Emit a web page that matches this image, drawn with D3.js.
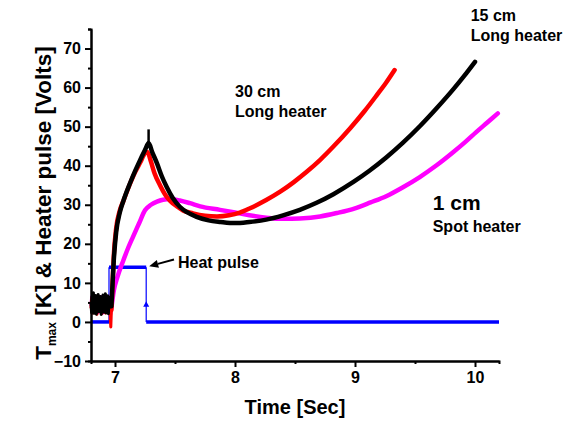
<!DOCTYPE html>
<html>
<head>
<meta charset="utf-8">
<script src="https://cdn.jsdelivr.net/npm/d3@7"></script>
<style>
  html, body { margin: 0; padding: 0; background: #fff; }
  svg text { font-family: Arial, "Liberation Sans", Helvetica, sans-serif; font-weight: bold; }
</style>
</head>
<body>
<svg id="chart" width="579" height="422"></svg>
<script>
// Pre-pulse baseline readings (noisy), sampled every 5 ms from 6.800 s
const noiseTime  = d3.range(34).map(i => 6.80 + i * 0.005);
const blackNoise = [4.8, 2.4, 6.6, 3.1, 7.5, 2.2, 5.9, 3.6, 6.8, 2.0, 5.4, 3.3, 7.0, 2.6, 6.1, 3.9, 6.5, 1.9, 5.7, 3.0, 6.9, 2.5, 5.2, 3.8, 7.2, 2.3, 6.0, 3.4, 6.7, 2.1, 5.5, 3.7, 6.3, 4.0];
const redNoise   = [3.5, 6.0, 2.2, 6.3, 2.9, 5.6, 2.4, 6.5, 3.6, 5.3, 2.0, 6.1, 3.1, 5.8, 2.6, 6.4, 3.3, 5.1, 2.1, 6.2, 2.8, 5.9, 3.7, 5.0, 2.3, 6.6, 3.0, 5.5, 2.5, 6.0, 3.4, 4.8, 1.5, -1.3];
const pinkNoise  = [4.1, 6.4, 2.7, 5.6, 3.0, 6.6, 3.7, 5.2, 2.5, 6.3, 3.4, 5.5, 2.4, 6.1, 3.8, 5.0, 2.8, 6.5, 3.2, 5.7, 2.3, 6.0, 3.6, 5.3, 2.6, 6.2, 3.1, 5.4, 2.9, 5.8, 3.5, 4.6, 2.4, 2.0];

// 15 cm long heater (black)
const blackTime = [6.97, 6.98, 6.99, 7.01, 7.04, 7.07, 7.125, 7.17, 7.21, 7.25, 7.28, 7.31, 7.35, 7.39, 7.43, 7.48, 7.54, 7.60, 7.68, 7.78, 7.88, 8.00, 8.12, 8.26, 8.40, 8.54, 8.68, 8.82, 8.99, 9.12, 9.26, 9.40, 9.54, 9.68, 9.82, 9.91, 10.00];
const blackTmax = [4.0, 10.0, 15.8, 23.0, 28.0, 31.0, 35.5, 38.8, 41.5, 44.0, 45.8, 43.5, 40.6, 37.3, 34.6, 31.8, 29.5, 28.1, 26.9, 26.0, 25.6, 25.3, 25.6, 26.2, 27.3, 28.7, 30.5, 32.7, 35.9, 38.7, 42.1, 45.9, 50.1, 54.7, 59.6, 63.0, 66.6];

// 30 cm long heater (red)
const redTime = [6.97, 6.98, 6.99, 7.01, 7.04, 7.07, 7.12, 7.17, 7.21, 7.25, 7.27, 7.30, 7.33, 7.375, 7.42, 7.46, 7.52, 7.57, 7.65, 7.75, 7.85, 7.95, 8.04, 8.125, 8.26, 8.38, 8.49, 8.60, 8.71, 8.82, 8.96, 9.08, 9.18, 9.26, 9.33];
const redTmax = [3.0, 10.0, 17.0, 24.0, 28.5, 31.0, 35.0, 38.5, 40.8, 43.2, 43.5, 41.0, 38.0, 35.0, 32.5, 31.0, 29.5, 28.5, 27.8, 27.2, 27.0, 27.3, 28.0, 29.1, 31.2, 33.4, 35.8, 38.5, 41.5, 44.9, 49.6, 54.0, 58.0, 61.3, 64.5];

// 1 cm spot heater (magenta)
const pinkTime = [6.97, 6.99, 7.02, 7.07, 7.11, 7.15, 7.20, 7.25, 7.30, 7.35, 7.40, 7.46, 7.54, 7.625, 7.71, 7.875, 8.00, 8.12, 8.26, 8.40, 8.54, 8.71, 8.85, 9.00, 9.13, 9.26, 9.40, 9.54, 9.68, 9.82, 9.92, 10.01, 10.10, 10.19];
const pinkTmax = [3.5, 8.0, 11.5, 15.8, 19.0, 21.8, 25.2, 28.6, 30.0, 30.8, 31.3, 31.5, 31.1, 30.4, 29.6, 28.7, 28.0, 27.3, 26.7, 26.4, 26.5, 27.0, 27.9, 29.1, 30.6, 32.2, 34.5, 37.1, 40.1, 43.5, 46.1, 48.6, 51.0, 53.4];

// Heater pulse (blue): 14 V between switch-on and switch-off
const pulseTime  = [6.80, 6.95, 6.95, 7.26, 7.26, 10.20];
const pulseVolts = [0, 0, 14, 14, 0, 0];
const pulseMidVolts = 4.5;   // single sample caught on the falling edge

const xTicks = [7, 8, 9, 10];
const yTicks = [-10, 0, 10, 20, 30, 40, 50, 60, 70];

const svg = d3.select("#chart");
const x = d3.scaleLinear().domain([6.8, 10.2]).range([91, 499]);
const y = d3.scaleLinear().domain([-10, 75]).range([361, 29]);

const zip = (ts, vs) => ts.map((t, i) => [t, vs[i]]);
const line = d3.line().x(d => x(d[0])).y(d => y(d[1]));
const smooth = d3.line().x(d => x(d[0])).y(d => y(d[1])).curve(d3.curveMonotoneX);

// heater pulse: thick plateaus, thin switching edges
const pulse = zip(pulseTime, pulseVolts);
const plateaus = [[pulse[0], pulse[1]], [pulse[2], pulse[3]], [pulse[4], pulse[5]]];
const edges = [[pulse[1], pulse[2]], [pulse[3], pulse[4]]];
svg.append("g").selectAll("path").data(edges).join("path")
  .attr("d", line).attr("fill", "none").attr("stroke", "#0000ff").attr("stroke-width", 1.2);
svg.append("g").selectAll("path").data(plateaus).join("path")
  .attr("d", line).attr("fill", "none").attr("stroke", "#0000ff").attr("stroke-width", 3.5);
{
  const px = x(pulseTime[3]), py = y(pulseMidVolts);
  svg.append("path").attr("d", `M${px},${py - 3}L${px + 3},${py + 2.5}L${px - 3},${py + 2.5}Z`).attr("fill", "#0000ff");
}

// temperature traces: noisy baseline + smooth response
const series = [
  { color: "#ff00ff", noise: zip(noiseTime, pinkNoise), pts: zip(pinkTime, pinkTmax) },
  { color: "#ff0000", noise: zip(noiseTime, redNoise), pts: zip(redTime, redTmax) },
  { color: "#000000", noise: zip(noiseTime, blackNoise), pts: zip(blackTime, blackTmax) }
];
const traces = svg.append("g").selectAll("g").data(series).join("g");
traces.append("path")
  .attr("d", d => line(d.noise.concat([d.pts[0]])))
  .attr("fill", "none").attr("stroke", d => d.color)
  .attr("stroke-width", 3).attr("stroke-linejoin", "round");
traces.append("path")
  .attr("d", d => smooth(d.pts))
  .attr("fill", "none").attr("stroke", d => d.color)
  .attr("stroke-width", 4.5).attr("stroke-linejoin", "round").attr("stroke-linecap", "round");

// scatter at the black peak
svg.append("line")
  .attr("x1", x(7.28)).attr("x2", x(7.28))
  .attr("y1", y(45)).attr("y2", y(49.3))
  .attr("stroke", "#000").attr("stroke-width", 2.5);

// axes
const xAxis = d3.axisBottom(x).tickValues(xTicks).tickFormat(d3.format("d")).tickSize(6).tickPadding(5);
const yAxis = d3.axisLeft(y).tickValues(yTicks).tickFormat(d3.format("d")).tickSize(6).tickPadding(4);
const xMinor = d3.axisBottom(x).tickValues([7.5, 8.5, 9.5]).tickFormat("").tickSize(3);
const yMinor = d3.axisLeft(y).tickValues(d3.range(-5, 76, 10)).tickFormat("").tickSize(3);

function styleAxis(g) {
  g.select(".domain").attr("stroke", "#000").attr("stroke-width", 2);
  g.selectAll(".tick line").attr("stroke", "#000").attr("stroke-width", 2);
  g.selectAll(".tick text").attr("fill", "#000").style("font-size", "16px").style("font-weight", "bold")
    .style("font-family", "Arial, 'Liberation Sans', sans-serif");
}
svg.append("g").attr("transform", `translate(0,${y(-10)})`).call(xMinor).call(styleAxis);
svg.append("g").attr("transform", `translate(${x(6.8)},0)`).call(yMinor).call(styleAxis);
svg.append("g").attr("transform", `translate(0,${y(-10)})`).call(xAxis.tickSizeOuter(0)).call(styleAxis);
svg.append("g").attr("transform", `translate(${x(6.8)},0)`).call(yAxis.tickSizeOuter(0)).call(styleAxis);

// axis titles
svg.append("text").attr("x", 295).attr("y", 414).attr("text-anchor", "middle")
  .style("font-size", "20px").text("Time [Sec]");

const yTitle = svg.append("text")
  .attr("transform", "translate(51,203) rotate(-90)")
  .attr("text-anchor", "middle")
  .style("font-size", "22.5px");
yTitle.append("tspan").text("T");
yTitle.append("tspan").attr("dy", 5).style("font-size", "12px").text("max");
yTitle.append("tspan").attr("dy", -5).text(" [K] & Heater pulse [Volts]");

// curve labels
const labels = [
  { x: 235, y: 96.7, size: 16, text: "30 cm" },
  { x: 235, y: 117.3, size: 16, text: "Long heater" },
  { x: 470.7, y: 20.7, size: 16, text: "15 cm" },
  { x: 470.7, y: 41.3, size: 16, text: "Long heater" },
  { x: 432.7, y: 210, size: 21, text: "1 cm" },
  { x: 432.7, y: 231.7, size: 16, text: "Spot heater" },
  { x: 178, y: 268.3, size: 16, text: "Heat pulse" }
];
svg.append("g").selectAll("text").data(labels).join("text")
  .attr("x", d => d.x).attr("y", d => d.y)
  .style("font-size", d => d.size + "px")
  .text(d => d.text);

// arrow pointing at the pulse plateau
{
  const tipX = x(7.26) + 3, tipY = y(14) - 1;
  const tailX = 174, tailY = 259.5;
  const ang = Math.atan2(tipY - tailY, tipX - tailX);
  const L = 9, W = 4;
  const bx = tipX - L * Math.cos(ang), by = tipY - L * Math.sin(ang);
  svg.append("line").attr("x1", tailX).attr("y1", tailY).attr("x2", bx).attr("y2", by)
    .attr("stroke", "#000").attr("stroke-width", 2);
  svg.append("path")
    .attr("d", `M${tipX},${tipY}L${bx + W * Math.sin(ang)},${by - W * Math.cos(ang)}L${bx - W * Math.sin(ang)},${by + W * Math.cos(ang)}Z`)
    .attr("fill", "#000");
}
</script>
</body>
</html>
